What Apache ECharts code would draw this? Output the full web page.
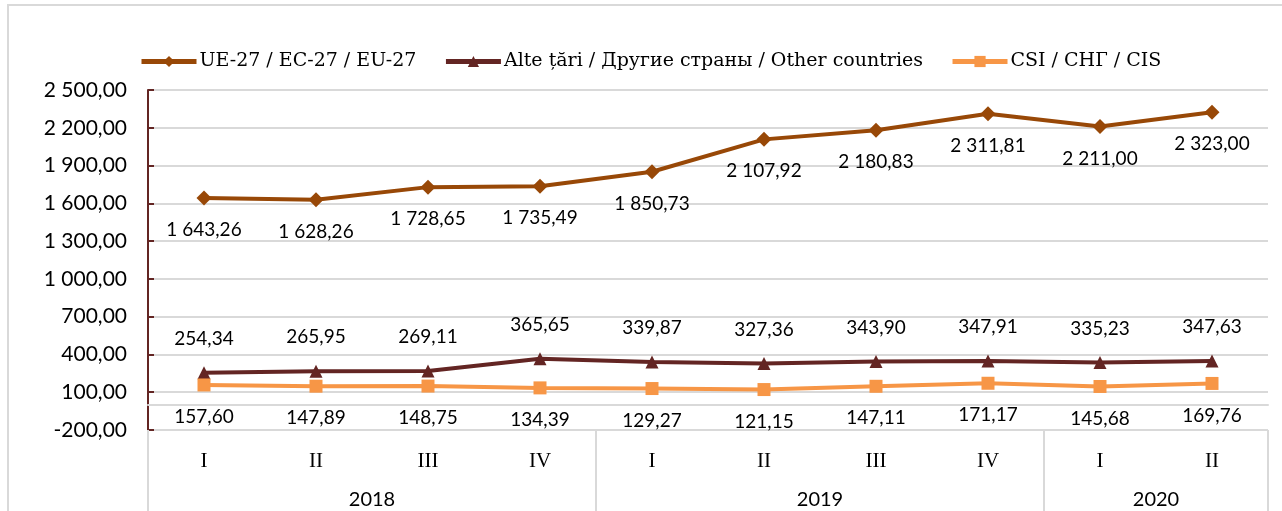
<!DOCTYPE html>
<html>
<head>
<meta charset="utf-8">
<script src="https://cdn.jsdelivr.net/npm/echarts@6/dist/echarts.min.js"></script>
<style>
  html, body { margin: 0; padding: 0; background: #fff; }
  #chart { width: 1282px; height: 511px; }
</style>
</head>
<body>
<div id="chart"></div>
<script>
// chart data
var quarters = ['I', 'II', 'III', 'IV', 'I', 'II', 'III', 'IV', 'I', 'II'];
// year labels sit on the band edges (11 slots, boundaryGap off)
var yearSlots = ['', '', '2018', '', '', '', '2019', '', '', '2020', ''];
var yearBreaks = [0, 4, 8, 10];

var euName = 'UE-27 / EC-27 / EU-27';
var otherName = 'Alte țări / Другие страны / Other countries';
var cisName = 'CSI / СНГ / CIS';

var euValues = [1643.26, 1628.26, 1728.65, 1735.49, 1850.73, 2107.92, 2180.83, 2311.81, 2211.00, 2323.00];
var otherValues = [254.34, 265.95, 269.11, 365.65, 339.87, 327.36, 343.90, 347.91, 335.23, 347.63];
var cisValues = [157.60, 147.89, 148.75, 134.39, 129.27, 121.15, 147.11, 171.17, 145.68, 169.76];

// 2 500,00 style
function fmt(v) {
  var s = Math.abs(v).toFixed(2).split('.');
  var int = s[0].replace(/\B(?=(\d{3})+(?!\d))/g, ' ');
  return (v < 0 ? '-' : '') + int + ',' + s[1];
}

var sans = 'Lato';
var serif = 'Liberation Serif';
var grey = '#d9d9d9';

var myChart = echarts.init(document.getElementById('chart'));

function lineSeries(name, data, color, symbol, size, pos, dist) {
  return {
    name: name,
    type: 'line',
    xAxisIndex: 0,
    data: data,
    symbol: symbol,
    symbolSize: size,
    lineStyle: { color: color, width: 4 },
    itemStyle: { color: color },
    label: {
      show: true,
      position: pos,
      distance: dist,
      color: '#000',
      fontFamily: sans,
      fontSize: 19,
      formatter: function (p) { return fmt(p.value); }
    },
    animation: false
  };
}

var option = {
  animation: false,
  graphic: [{
    type: 'rect',
    shape: { x: 8, y: 5, width: 1400, height: 700 },
    style: { fill: 'none', stroke: grey, lineWidth: 2 },
    silent: true
  }],
  legend: {
    left: 134,
    top: 47,
    itemWidth: 55,
    itemHeight: 14,
    itemGap: 27,
    lineStyle: { width: 5 },
    textStyle: { fontFamily: 'DejaVu Serif', fontSize: 19, color: '#000', padding: [0, 0, 0, -2] },
    data: [euName, otherName, cisName]
  },
  grid: { left: 148, right: 14, top: 90, bottom: 81 },
  xAxis: [
    {
      // line at zero
      type: 'category',
      data: quarters,
      axisLine: { onZero: true, lineStyle: { color: grey, width: 2 } },
      axisTick: { show: false },
      axisLabel: { show: false }
    },
    {
      type: 'category',
      data: quarters,
      position: 'bottom',
      axisLine: { show: false, onZero: false },
      axisTick: { show: false },
      axisLabel: {
        interval: 0,
        margin: 21,
        fontFamily: serif,
        fontSize: 21,
        color: '#000'
      }
    },
    {
      type: 'category',
      data: yearSlots,
      boundaryGap: false,
      position: 'bottom',
      axisLine: { show: false, onZero: false },
      axisTick: {
        show: true,
        length: 81,
        interval: function (i) { return yearBreaks.indexOf(i) >= 0; },
        lineStyle: { color: grey, width: 2 }
      },
      axisLabel: {
        interval: 0,
        margin: 60,
        fontFamily: sans,
        fontSize: 20,
        color: '#000'
      }
    }
  ],
  yAxis: {
    type: 'value',
    min: -200,
    max: 2500,
    interval: 300,
    axisLine: { show: true, lineStyle: { color: '#632523', width: 2 } },
    axisTick: { show: true, inside: true, length: 6, lineStyle: { color: '#632523', width: 2 } },
    splitLine: { lineStyle: { color: grey, width: 2 } },
    axisLabel: {
      margin: 21,
      fontFamily: sans,
      fontSize: 21,
      color: '#000',
      formatter: fmt
    }
  },
  series: [
    lineSeries(euName, euValues, '#984807', 'diamond', 15, 'bottom', 15),
    lineSeries(otherName, otherValues, '#632523', 'triangle', 13, 'top', 18),
    lineSeries(cisName, cisValues, '#f79646', 'rect', 13, 'bottom', 16)
  ]
};

myChart.setOption(option);
</script>
</body>
</html>
